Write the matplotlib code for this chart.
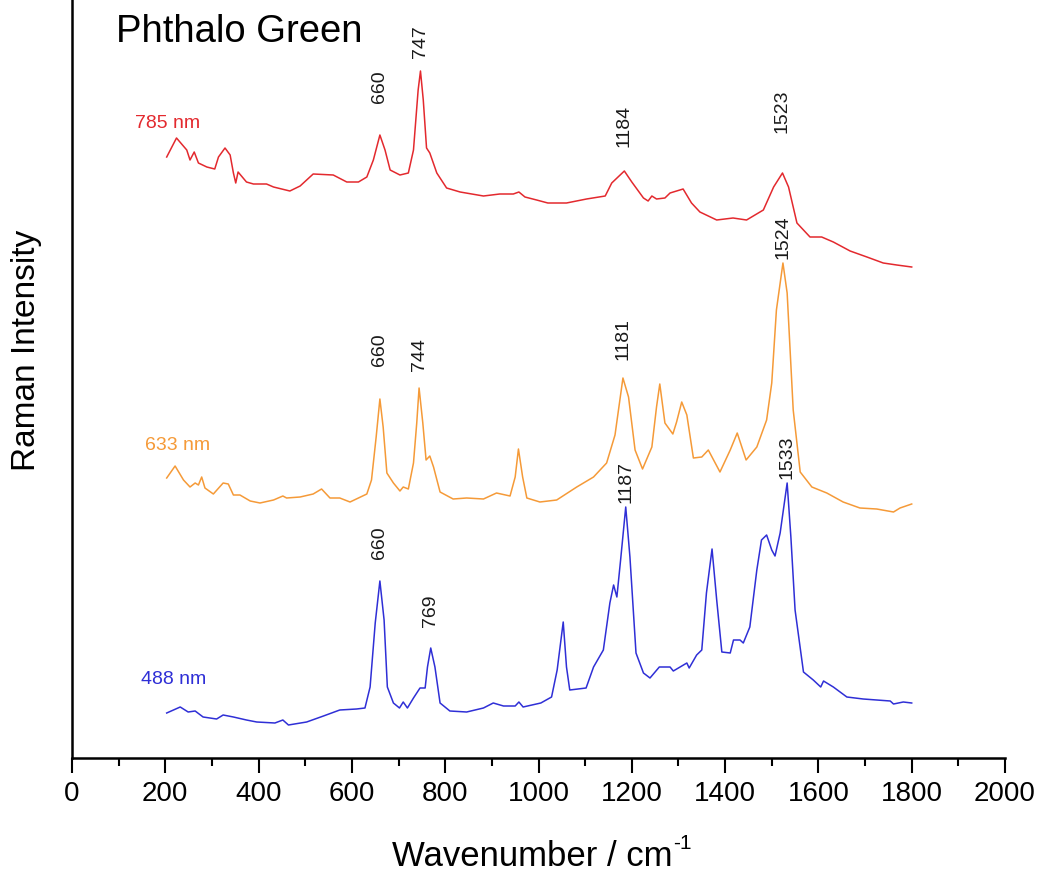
import numpy as np
import matplotlib
matplotlib.use('Agg')
import matplotlib.pyplot as plt

plt.rcParams['font.family'] = ['Liberation Sans', 'DejaVu Sans']

# Raman spectra of phthalo green at three excitation wavelengths (a.u., stacked)
wn_785 = [203, 224, 246, 253, 262, 271, 289, 306, 314, 328, 339, 346, 351, 356, 374, 389, 417, 432,
          467, 489, 517, 560, 589, 614, 632, 646, 660, 671, 682, 703, 721, 732, 742, 747, 753, 760,
          767, 782, 803, 832, 882, 917, 946, 958, 971, 996, 1020, 1060, 1103, 1143, 1157, 1184, 1200,
          1225, 1235, 1243, 1253, 1271, 1282, 1310, 1328, 1346, 1382, 1417, 1446, 1482, 1504, 1523,
          1536, 1554, 1582, 1607, 1632, 1668, 1704, 1739, 1768, 1800]
int_785 = [601, 620, 608, 598, 606, 595, 591, 589, 601, 610, 603, 585, 575, 586, 576, 574, 574, 571,
           567, 572, 584, 583, 576, 576, 581, 598, 623, 608, 588, 583, 585, 608, 668, 687, 658, 610,
           605, 585, 570, 566, 562, 564, 564, 566, 561, 558, 555, 555, 559, 562, 575, 587, 576,
           560, 557, 562, 559, 560, 565, 569, 555, 546, 538, 540, 538, 548, 571, 585,
           571, 535, 521, 521, 516, 507, 501, 495, 493, 491]

wn_633 = [203, 221, 239, 253, 264, 271, 278, 285, 303, 324, 335, 346, 360, 382, 403, 432, 452, 460,
          489, 517, 535, 553, 574, 596, 614, 632, 642, 652, 660, 667, 675, 689, 703, 710, 721, 732,
          739, 744, 752, 759, 767, 775, 789, 817, 846, 882, 910, 939, 950, 957, 966, 975, 1003, 1039,
          1082, 1118, 1146, 1164, 1181, 1193, 1207, 1223, 1243, 1253, 1260, 1271, 1288, 1296, 1307,
          1318, 1332, 1350, 1364, 1389, 1411, 1426, 1445, 1468, 1489, 1500, 1510, 1524, 1533, 1546,
          1561, 1586, 1618, 1653, 1689, 1725, 1761, 1775, 1800]
int_633 = [280, 292, 278, 271, 275, 273, 281, 270, 264, 275, 274, 263, 263, 257, 255, 258, 262, 260,
           261, 264, 269, 260, 260, 256, 260, 264, 278, 321, 359, 331, 285, 275, 267, 271, 269, 295,
           335, 370, 335, 298, 302, 291, 266, 259, 260, 259, 265, 262, 281, 309, 281, 260, 256, 258,
           271, 281, 295, 323, 380, 361, 308, 289, 311, 351, 374, 335, 324, 336, 356,
           343, 300, 301, 308, 286, 308, 325, 298, 311, 338, 375, 448, 495, 465, 348,
           286, 271, 265, 256, 250, 249, 246, 250, 254]

wn_488 = [203, 232, 249, 264, 281, 310, 324, 346, 374, 396, 435, 452, 464, 503, 539, 574, 610, 628,
          639, 650, 660, 669, 676, 689, 702, 710, 719, 732, 746, 757, 762, 769, 778, 789, 810, 846,
          882, 903, 925, 950, 958, 967, 1005, 1028, 1040, 1053, 1060, 1067, 1102, 1118, 1139, 1153,
          1161, 1168, 1176, 1187, 1196, 1209, 1225, 1239, 1259, 1282, 1289, 1318, 1323, 1339, 1350,
          1360, 1372, 1382, 1393, 1411, 1418, 1432, 1439, 1453, 1468, 1478, 1489, 1500, 1507, 1518,
          1533, 1541, 1550, 1568, 1589, 1605, 1611, 1632, 1661, 1696, 1754, 1761, 1782, 1800]
int_488 = [45, 51, 46, 47, 41, 39, 43, 41, 38, 36, 35, 38, 33, 36, 42, 48, 49, 50,
           71, 135, 177, 138, 71, 55, 50, 56, 50, 60, 70, 70, 91, 110, 91, 55, 47, 46,
           50, 55, 52, 52, 56, 51, 55, 61, 88, 136, 91, 68, 70, 91, 108, 155,
           173, 161, 198, 251, 201, 105, 85, 80, 91, 91, 87, 95, 90, 103, 108,
           165, 209, 158, 106, 105, 118, 118, 115, 131, 188, 218, 223, 208, 202, 225,
           275, 221, 148, 86, 78, 71, 77, 71, 61, 59, 57, 54, 56, 55]

peaks_785 = [660, 747, 1184, 1523]
peaks_633 = [660, 744, 1181, 1524]
peaks_488 = [660, 769, 1187, 1533]

# name, x, y, labelled peaks, colour, label gap above peak (pt), name position
series = [
    ('785 nm', wn_785, int_785, peaks_785, '#e3292e', [23, 9, 17, 29], (135, 635)),
    ('633 nm', wn_633, int_633, peaks_633, '#f59a38', [24, 12, 13, 3], (156, 313)),
    ('488 nm', wn_488, int_488, peaks_488, '#2f2fd6', [16, 15, 3, 3], (148, 79)),
]

fig = plt.figure(figsize=(10.4, 8.74), dpi=100)
ax = fig.add_axes([72 / 1040, 116 / 874, 933 / 1040, 758 / 874])

for name, wn, inten, peaks, color, gaps, (lx, ly) in series:
    ax.plot(wn, inten, color=color, lw=1.1)
    ax.text(lx, ly, name, color=color, fontsize=14, ha='left', va='center')
    for pk, gap in zip(peaks, gaps):
        yp = np.interp(pk, wn, inten)
        ax.annotate(str(pk), (pk, yp), xytext=(0, gap), textcoords='offset points',
                    rotation=90, ha='center', va='bottom', fontsize=14, color='#1a1a1a')

ax.text(94, 716, 'Phthalo Green', fontsize=27.5, ha='left', va='baseline')

ax.set_xlim(0, 2000)
ax.set_ylim(0, 758)
ax.set_xticks(np.arange(0, 2001, 200))
ax.set_xticks(np.arange(100, 2000, 200), minor=True)
ax.set_yticks([])
ax.spines['top'].set_visible(False)
ax.spines['right'].set_visible(False)
ax.spines['left'].set_linewidth(1.8)
ax.spines['bottom'].set_linewidth(1.8)
ax.tick_params(axis='x', which='major', direction='out', length=10.8, width=1.5, pad=6, labelsize=20)
ax.tick_params(axis='x', which='minor', direction='out', length=5.8, width=1.5)

# x label, superscript with a plain hyphen
xl = fig.text(532 / 1040, 8 / 874, 'Wavenumber / cm', fontsize=25, ha='center', va='baseline')
fig.add_artist(plt.Annotation('-1', xy=(1, 1), xycoords=xl, xytext=(0.5, 4),
                              textcoords='offset points', fontsize=15, ha='left', va='top'))

fig.text(27 / 1040, 1 - 350 / 874, 'Raman Intensity', fontsize=24, rotation=90, ha='center', va='center')

fig.savefig('out.png', dpi=100)
